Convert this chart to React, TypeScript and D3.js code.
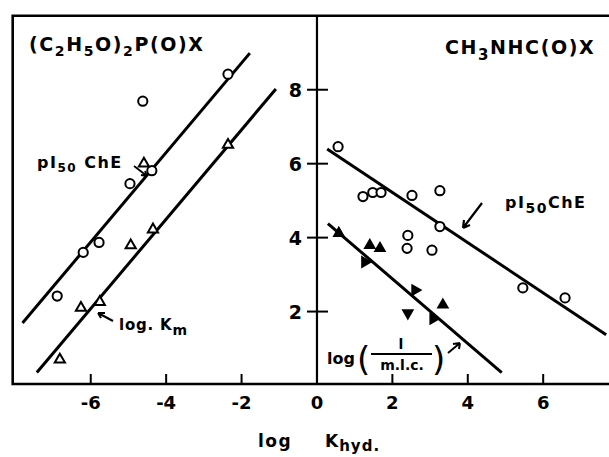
import * as d3 from "d3";

// (log Khyd. vs value)
const xTicks = [-6, -4, -2, 2, 4, 6];
const yTicks = [2, 4, 6, 8];

const leftCircles = [[-2.36, 8.42], [-4.62, 7.69], [-4.38, 5.81], [-4.96, 5.46], [-5.78, 3.87], [-6.2, 3.6], [-6.89, 2.42]];
const leftTriangles = [[-2.36, 6.51], [-4.59, 6.0], [-4.35, 4.22], [-4.94, 3.79], [-5.76, 2.26], [-6.26, 2.1], [-6.82, 0.7]];
const leftChE = [[-7.81, 1.69], [-1.78, 8.99]];
const leftKm = [[-7.43, 0.35], [-1.09, 8.02]];

const rightCircles = [[0.56, 6.46], [1.22, 5.11], [1.48, 5.22], [1.7, 5.22], [2.52, 5.14], [3.26, 5.27], [3.26, 4.3], [2.41, 4.06], [2.39, 3.71], [3.05, 3.66], [5.46, 2.64], [6.58, 2.37]];
const rightTriangles = [[0.58, 4.12], [1.4, 3.79], [1.67, 3.71], [1.27, 3.34], [2.6, 2.58], [3.34, 2.18], [2.41, 1.96], [3.08, 1.8]];
const rightChE = [[0.27, 6.4], [7.67, 1.37]];
const rightMic = [[0.29, 4.38], [4.9, 0.35]];

const W = 609, H = 457;
const font = "'DejaVu Sans', sans-serif";

export default function App() {
  const x = d3.scaleLinear().domain([-8.07, 8]).range([12.7, 618.6]);
  const y = d3.scaleLinear().domain([0, 10]).range([385.5, 15.8]);
  const line = d3.line<number[]>().x((d) => x(d[0])).y((d) => y(d[1]));
  const tri = d3.symbol().type(d3.symbolTriangle).size(45)();

  const top = y(10), bottom = 384;

  return (
    <svg width={W} height={H} style={{ position: "absolute", left: 0, top: 0, background: "#fff" }}>
      {/* frame */}
      <path d={`M${W},${top}H${x(-8.07)}V${bottom}H${W}`} fill="none" stroke="#000" strokeWidth={2.6} />
      <line x1={x(0)} x2={x(0)} y1={top} y2={bottom} stroke="#000" strokeWidth={2.2} />

      {/* x ticks */}
      {xTicks.map((t) => (
        <line key={t} x1={x(t)} x2={x(t)} y1={bottom} y2={bottom - 10} stroke="#000" strokeWidth={2} />
      ))}
      {[...xTicks, 0].map((t) => (
        <text key={"l" + t} x={x(t)} y={409} textAnchor="middle" fontFamily={font} fontWeight="bold" fontSize={18}>
          {t < 0 ? "-" + Math.abs(t) : t}
        </text>
      ))}
      {/* y ticks */}
      {yTicks.map((t) => (
        <g key={t}>
          <line x1={x(0) - 10} x2={x(0) + 11} y1={y(t)} y2={y(t)} stroke="#000" strokeWidth={2} />
          <text x={302} y={y(t) + 7} textAnchor="end" fontFamily={font} fontWeight="bold" fontSize={19}>{t}</text>
        </g>
      ))}

      {/* fitted lines */}
      {[leftChE, leftKm, rightChE, rightMic].map((l, i) => (
        <path key={i} d={line(l) as string} fill="none" stroke="#000" strokeWidth={3} />
      ))}

      {/* points */}
      {[...leftCircles, ...rightCircles].map((d, i) => (
        <circle key={"c" + i} cx={x(d[0])} cy={y(d[1])} r={4.6} fill="#fff" stroke="#000" strokeWidth={2} />
      ))}
      {leftTriangles.map((d, i) => (
        <path key={"t" + i} d={tri as string} transform={`translate(${x(d[0])},${y(d[1])})`} fill="#fff" stroke="#000" strokeWidth={2} />
      ))}
      {rightTriangles.map((d, i) => (
        <path key={"f" + i} d={tri as string} transform={`translate(${x(d[0])},${y(d[1])}) rotate(${[0, 0, 0, 90, 90, 0, 180, 90][i]})`} fill="#000" stroke="#000" strokeWidth={1.5} />
      ))}

      {/* titles */}
      <text x={29} y={51} fontFamily={font} fontWeight="bold" fontSize={19} letterSpacing={1.6}>
        (C<tspan dy={5} fontSize={14}>2</tspan><tspan dy={-5}>H</tspan><tspan dy={5} fontSize={14}>5</tspan><tspan dy={-5}>O)</tspan><tspan dy={5} fontSize={14}>2</tspan><tspan dy={-5}>P(O)X</tspan>
      </text>
      <text x={445} y={54} fontFamily={font} fontWeight="bold" fontSize={19} letterSpacing={1.6}>
        CH<tspan dy={6} fontSize={15}>3</tspan><tspan dy={-6}>NHC(O)X</tspan>
      </text>

      {/* series labels */}
      <text x={37} y={168} fontFamily={font} fontWeight="bold" fontSize={16} letterSpacing={1.5}>
        pI<tspan dy={4} fontSize={12}>50</tspan><tspan dy={-4}> ChE</tspan>
      </text>
      <path d="M134,166L147,176M147,176l-6,-1M147,176l-2,-5" fill="none" stroke="#000" strokeWidth={1.8} />

      <text x={119} y={330} fontFamily={font} fontWeight="bold" fontSize={15} letterSpacing={0.8}>
        log. K<tspan dy={5} fontSize={14}>m</tspan>
      </text>
      <path d="M113,321L98,313M98,313l7,0M98,313l3,5" fill="none" stroke="#000" strokeWidth={2} />

      <text x={505} y={208} fontFamily={font} fontWeight="bold" fontSize={16} letterSpacing={1.5}>
        pI<tspan dy={5} fontSize={14}>50</tspan><tspan dy={-5}>ChE</tspan>
      </text>
      <path d="M482,203L463,228M463,228l1,-8M463,228l7,-3" fill="none" stroke="#000" strokeWidth={2.2} />

      <text x={327} y={364} fontFamily={font} fontWeight="bold" fontSize={16}>log</text>
      <text x={357} y={371} fontFamily={font} fontSize={34}>(</text>
      <text x={401} y={349} textAnchor="middle" fontFamily={font} fontWeight="bold" fontSize={14}>l</text>
      <line x1={371} x2={432} y1={354} y2={354} stroke="#000" strokeWidth={1.8} />
      <text x={402} y={370} textAnchor="middle" fontFamily={font} fontWeight="bold" fontSize={14}>m.l.c.</text>
      <text x={432} y={371} fontFamily={font} fontSize={34}>)</text>
      <path d="M448,353L460,343M460,343l-7,1M460,343l-1,6" fill="none" stroke="#000" strokeWidth={2} />

      {/* axis title */}
      <text x={258} y={447} fontFamily={font} fontWeight="bold" fontSize={17} letterSpacing={1.5}>log</text>
      <text x={325} y={447} fontFamily={font} fontWeight="bold" fontSize={17} letterSpacing={1}>
        K<tspan dy={4} fontSize={15}>hyd.</tspan>
      </text>
    </svg>
  );
}
